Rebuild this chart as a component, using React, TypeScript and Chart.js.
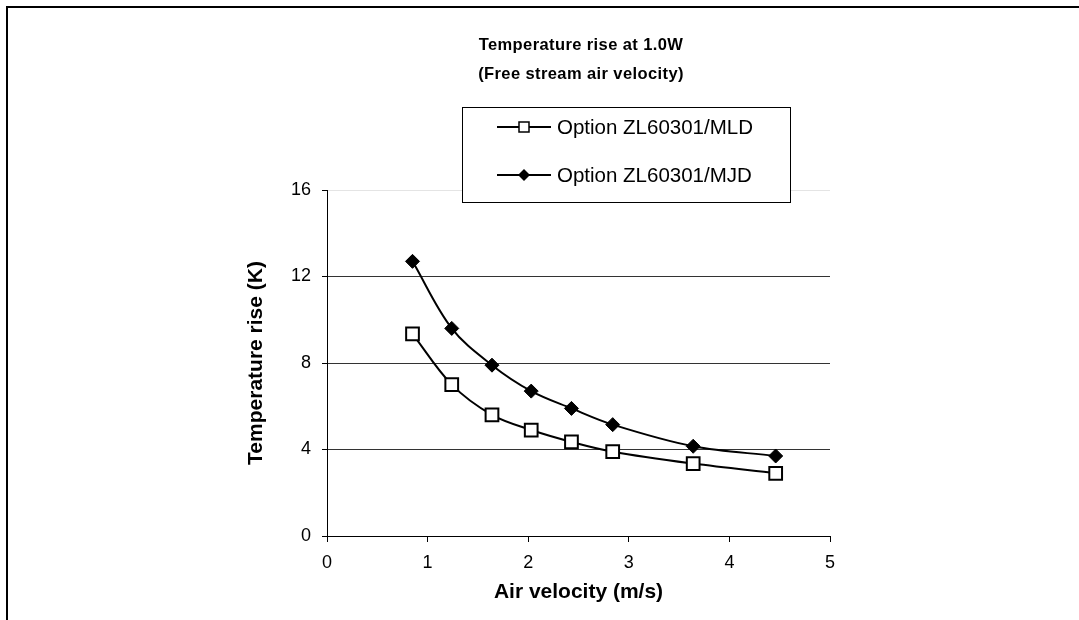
import React, { useEffect, useRef } from "react";
import { Chart, registerables } from "chart.js";

Chart.register(...registerables);

const titleLines = ["Temperature rise at 1.0W", "(Free stream air velocity)"];
const xTitle = "Air velocity (m/s)";
const yTitle = "Temperature rise (K)";
const seriesLabels = ["Option ZL60301/MLD", "Option ZL60301/MJD"];
const velocities = [0.85, 1.24, 1.64, 2.03, 2.43, 2.84, 3.64, 4.46];
const mldValues = [9.35, 7.0, 5.6, 4.9, 4.35, 3.9, 3.35, 2.9];
const mjdValues = [12.7, 9.6, 7.9, 6.7, 5.9, 5.15, 4.15, 3.7];
const yTicks = [0, 4, 8, 12, 16];
const xTicks = [0, 1, 2, 3, 4, 5];

const FONT = "'Liberation Sans', Arial, sans-serif";

const decorPlugin = {
  id: "decor",
  beforeDraw(chart: any) {
    const ctx = chart.ctx;
    ctx.save();
    ctx.fillStyle = "#ffffff";
    ctx.fillRect(0, 0, chart.width, chart.height);
    ctx.fillStyle = "#000000";
    ctx.fillRect(6, 6, chart.width - 6, 2);
    ctx.fillRect(6, 6, 2, chart.height - 6);
    ctx.restore();
  },
  afterDraw(chart: any) {
    const ctx = chart.ctx;
    ctx.save();
    // title
    ctx.fillStyle = "#000";
    ctx.font = `bold 16.5px ${FONT}`;
    ctx.textAlign = "center";
    ctx.textBaseline = "middle";
    try { (ctx as any).letterSpacing = "0.4px"; } catch (e) {}
    ctx.fillText(titleLines[0], 581, 45);
    ctx.fillText(titleLines[1], 581, 74);
    try { (ctx as any).letterSpacing = "0px"; } catch (e) {}
    // legend box
    const bx = 462, by = 107, bw = 328, bh = 95;
    ctx.fillStyle = "#fff";
    ctx.fillRect(bx, by, bw, bh);
    ctx.strokeStyle = "#000";
    ctx.lineWidth = 1;
    ctx.strokeRect(bx + 0.5, by + 0.5, bw, bh);
    const rows = [127, 175];
    chart.data.datasets.forEach((ds: any, i: number) => {
      const y = rows[i];
      ctx.strokeStyle = "#000";
      ctx.lineWidth = 2;
      ctx.beginPath();
      ctx.moveTo(497, y);
      ctx.lineTo(551, y);
      ctx.stroke();
      ctx.fillStyle = ds.pointBackgroundColor;
      ctx.lineWidth = 1.5;
      if (ds.pointStyle === "rect") {
        ctx.fillRect(519, y - 5, 10, 10);
        ctx.strokeRect(519, y - 5, 10, 10);
      } else {
        ctx.beginPath();
        ctx.moveTo(524, y - 6);
        ctx.lineTo(530, y);
        ctx.lineTo(524, y + 6);
        ctx.lineTo(518, y);
        ctx.closePath();
        ctx.fill();
      }
      ctx.fillStyle = "#000";
      ctx.font = `20.5px ${FONT}`;
      ctx.textAlign = "left";
      ctx.textBaseline = "middle";
      ctx.fillText(ds.label, 557, y + 1);
    });
    ctx.restore();
  },
};

export default function App() {
  const ref = useRef<HTMLCanvasElement>(null);
  useEffect(() => {
    if (!ref.current) return;
    const chart = new Chart(ref.current, {
      type: "scatter",
      data: {
        datasets: [
          {
            label: seriesLabels[0],
            data: velocities.map((x, i) => ({ x, y: mldValues[i] })),
            showLine: true,
            borderColor: "#000",
            borderWidth: 2,
            tension: 0.35,
            pointStyle: "rect",
            pointRadius: 9,
            pointBorderWidth: 2,
            pointBorderColor: "#000",
            pointBackgroundColor: "#fff",
          },
          {
            label: seriesLabels[1],
            data: velocities.map((x, i) => ({ x, y: mjdValues[i] })),
            showLine: true,
            borderColor: "#000",
            borderWidth: 2,
            tension: 0.35,
            pointStyle: "rectRot",
            pointRadius: 7,
            pointBorderWidth: 1,
            pointBorderColor: "#000",
            pointBackgroundColor: "#000",
          },
        ],
      },
      options: {
        animation: false,
        responsive: false,
        devicePixelRatio: 1,
        events: [],
        layout: { padding: { left: 244, right: 249, top: 190, bottom: 12 } },
        plugins: { legend: { display: false }, title: { display: false }, tooltip: { enabled: false } },
        scales: {
          x: {
            type: "linear",
            min: 0,
            max: 5,
            afterBuildTicks: (s: any) => { s.ticks = xTicks.map((v) => ({ value: v })); },
            afterFit: (s: any) => { s.height = 72; },
            border: { color: "#000", width: 1 },
            grid: { drawOnChartArea: false, drawTicks: true, tickLength: 6, tickColor: "#000" },
            ticks: { color: "#000", font: { family: FONT, size: 18 }, padding: 10 },
            title: { display: true, text: xTitle, color: "#000", font: { family: FONT, size: 21, weight: "bold" }, padding: { top: 0, bottom: 3 } },
          },
          y: {
            type: "linear",
            min: 0,
            max: 16,
            afterBuildTicks: (s: any) => { s.ticks = yTicks.map((v) => ({ value: v })); },
            afterFit: (s: any) => { s.width = 83; },
            border: { color: "#000", width: 1 },
            grid: {
              color: (c: any) => (c.tick && c.tick.value === 16 ? "#e4e4e4" : c.tick && c.tick.value === 0 ? "#000" : "#333"),
              lineWidth: 1,
              drawTicks: true,
              tickLength: 5,
              tickColor: "#000",
            },
            ticks: { color: "#000", font: { family: FONT, size: 18 }, padding: 11 },
            title: { display: true, text: yTitle, color: "#000", font: { family: FONT, size: 21, weight: "bold" }, padding: { top: 0, bottom: 0 } },
          },
        },
      },
      plugins: [decorPlugin],
    } as any);
    return () => chart.destroy();
  }, []);
  return (
    <div style={{ position: "fixed", left: 0, top: 0, width: 1079, height: 620 }}>
      <canvas ref={ref} width={1079} height={620} style={{ display: "block" }} />
    </div>
  );
}
